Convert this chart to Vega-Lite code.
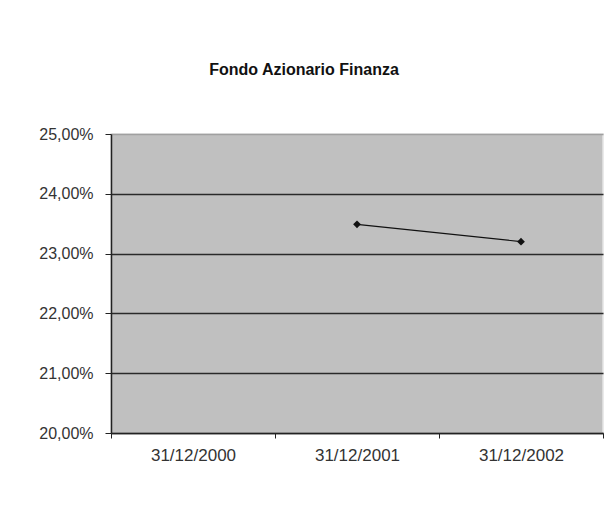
{
  "$schema": "https://vega.github.io/schema/vega-lite/v6.json",
  "autosize": {"type": "none"},
  "width": 492,
  "height": 299,
  "padding": {"left": 111, "top": 134, "right": 10, "bottom": 97},
  "background": "white",
  "title": {
    "text": "Fondo Azionario Finanza",
    "anchor": "middle",
    "dx": -53,
    "offset": 48,
    "font": "Liberation Sans",
    "fontSize": 16,
    "fontWeight": "bold",
    "color": "#111"
  },
  "config": {
    "view": {"fill": "#c0c0c0", "stroke": "#e4e4e4", "strokeWidth": 1.5},
    "axis": {"labelFont": "Liberation Sans", "labelColor": "#333", "labelFontSize": 16}
  },
  "data": {
    "values": [
      {"date": "31/12/2000", "value": null},
      {"date": "31/12/2001", "value": 0.2349},
      {"date": "31/12/2002", "value": 0.2320}
    ]
  },
  "encoding": {
    "x": {
      "field": "date",
      "type": "ordinal",
      "scale": {"domain": ["31/12/2000", "31/12/2001", "31/12/2002"], "paddingInner": 0, "paddingOuter": 0},
      "axis": {
        "title": null,
        "labelAngle": 0,
        "tickBand": "extent",
        "tickSize": 5,
        "tickColor": "#222",
        "domainColor": "#222",
        "domainWidth": 1.5,
        "labelFontSize": 17,
        "labelPadding": 9,
        "grid": false
      }
    },
    "y": {
      "field": "value",
      "type": "quantitative",
      "scale": {"domain": [0.2, 0.25], "zero": false, "nice": false},
      "axis": {
        "title": null,
        "values": [0.2, 0.21, 0.22, 0.23, 0.24, 0.25],
        "labelExpr": "replace(format(datum.value, '.2%'), '.', ',')",
        "tickSize": 6,
        "tickColor": "#222",
        "domainColor": "#222",
        "domainWidth": 1.5,
        "labelPadding": 12,
        "grid": true,
        "gridColor": {"condition": {"test": "datum.value >= 0.25", "value": "#a0a0a0"}, "value": "#2a2a2a"},
        "gridWidth": 1.5,
        "gridOpacity": 1
      }
    }
  },
  "layer": [
    {"mark": {"type": "line", "color": "#111", "strokeWidth": 1.2}},
    {"mark": {"type": "point", "shape": "diamond", "filled": true, "color": "#111", "size": 60, "opacity": 1}}
  ]
}
